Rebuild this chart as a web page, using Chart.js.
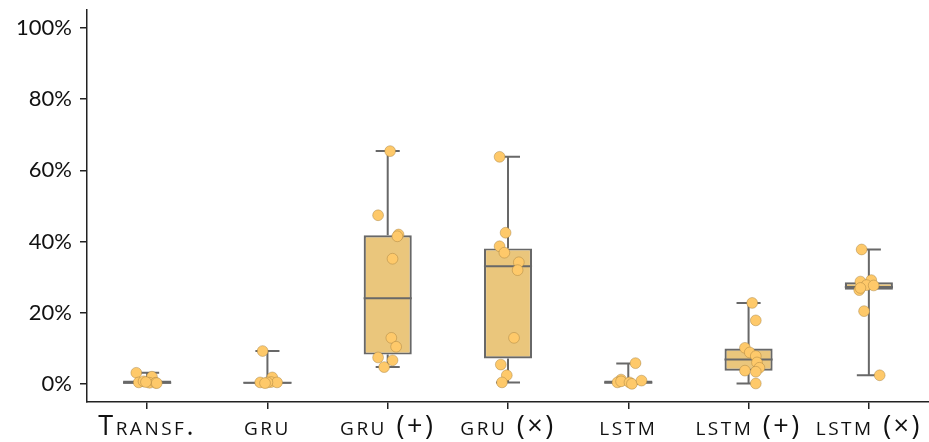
<!DOCTYPE html>
<html>
<head>
<meta charset="utf-8">
<script src="https://cdn.jsdelivr.net/npm/chart.js@4.4.0/dist/chart.umd.min.js"></script>
<style>
  html, body { margin: 0; padding: 0; background: #fff; }
  #wrap { width: 929px; height: 442px; }
</style>
</head>
<body>
<div id="wrap"><canvas id="chart" width="929" height="442"></canvas></div>
<script>
// categories (drawn in small caps)
const categories = ['Transf.', 'gru', 'gru (+)', 'gru (×)', 'lstm', 'lstm (+)', 'lstm (×)'];
const yTicks = [0, 20, 40, 60, 80, 100];

// box stats per model, in %
const q1        = [0.1, 0.1,  8.3,  7.2, 0.1,  3.8, 26.5];
const median    = [0.4, 0.4, 24.1, 33.1, 0.5,  6.9, 27.3];
const q3        = [1.0, 0.6, 41.8, 38.1, 1.0, 10.0, 28.6];
const whiskerLo = [0.0, 0.0,  4.8,  0.5, 0.1,  0.2,  2.5];
const whiskerHi = [3.2, 9.3, 65.4, 63.8, 5.8, 22.8, 37.8];

// individual runs, in %
const transfRuns = [3.2, 2.1, 0.5, 0.4, 0.4, 0.8, 0.3, 0.6];
const gruRuns = [9.3, 0.5, 1.9, 0.6, 0.5, 0.5, 0.3];
const gruAddRuns = [65.4, 47.4, 42.0, 41.5, 35.2, 13.0, 10.5, 7.5, 6.7, 4.8];
const gruMulRuns = [63.8, 42.5, 38.7, 36.9, 34.2, 32.0, 13.0, 5.5, 2.5, 0.5];
const lstmRuns = [5.9, 1.3, 0.5, 0.8, 0.5, 0.1, 1.0];
const lstmAddRuns = [22.8, 17.9, 10.2, 8.9, 7.9, 6.1, 4.6, 3.8, 3.5, 0.2];
const lstmMulRuns = [37.8, 28.8, 29.2, 27.8, 27.7, 26.4, 27.0, 20.5, 2.5];

// horizontal jitter of the strip points (fraction of a category)
const transfJit = [-0.09, 0.04, -0.07, 0.02, 0.07, -0.03, 0.08, -0.01];
const gruJit = [-0.04, -0.06, 0.04, 0.03, 0.08, 0.0, -0.02];
const gruAddJit = [0.02, -0.08, 0.09, 0.08, 0.04, 0.03, 0.07, -0.08, 0.04, -0.03];
const gruMulJit = [-0.07, -0.02, -0.07, -0.03, 0.09, 0.08, 0.05, -0.06, -0.01, -0.05];
const lstmJit = [0.06, -0.06, -0.09, -0.06, 0.01, 0.03, 0.11];
const lstmAddJit = [0.03, 0.06, -0.03, 0.01, 0.06, 0.07, 0.09, -0.03, 0.06, 0.06];
const lstmMulJit = [-0.06, -0.07, 0.02, -0.02, 0.04, -0.08, -0.07, -0.04, 0.09];

const runs = [transfRuns, gruRuns, gruAddRuns, gruMulRuns, lstmRuns, lstmAddRuns, lstmMulRuns];
const jit = [transfJit, gruJit, gruAddJit, gruMulJit, lstmJit, lstmAddJit, lstmMulJit];

const stripPoints = [];
runs.forEach((vals, i) => {
  vals.forEach((v, j) => stripPoints.push({ x: i + jit[i][j], y: v }));
});

const LINE = '#686868';
const AXIS = '#222';

// whiskers + medians drawn with the chart scales
const boxPlugin = {
  id: 'boxParts',
  beforeDraw(chart) {
    // wider letter spacing on the category labels only
    const xs = chart.scales.x;
    if (!xs._spaced) {
      const orig = xs.drawLabels;
      xs.drawLabels = function (area) {
        this.ctx.letterSpacing = '2.5px';
        orig.call(this, area);
        this.ctx.letterSpacing = '0px';
      };
      xs._spaced = true;
    }
  },
  afterDatasetDraw(chart, args) {
    if (args.index !== 0) return;
    const ctx = chart.ctx;
    const xs = chart.scales.x2;
    const ys = chart.scales.y;
    const meta = chart.getDatasetMeta(0);
    ctx.save();
    ctx.strokeStyle = LINE;
    ctx.lineWidth = 2;
    categories.forEach((c, i) => {
      const cx = xs.getPixelForValue(i);
      const capL = xs.getPixelForValue(i - 0.1);
      const capR = xs.getPixelForValue(i + 0.1);
      const bar = meta.data[i];
      const half = bar.width / 2;
      const yq1 = ys.getPixelForValue(q1[i]);
      const yq3 = ys.getPixelForValue(q3[i]);
      const ylo = ys.getPixelForValue(whiskerLo[i]);
      const yhi = ys.getPixelForValue(whiskerHi[i]);
      const ym = ys.getPixelForValue(median[i]);
      ctx.beginPath();
      ctx.moveTo(cx, yq3); ctx.lineTo(cx, yhi);
      ctx.moveTo(capL, yhi); ctx.lineTo(capR, yhi);
      ctx.moveTo(cx, yq1); ctx.lineTo(cx, ylo);
      ctx.moveTo(capL, ylo); ctx.lineTo(capR, ylo);
      ctx.moveTo(cx - half, ym); ctx.lineTo(cx + half, ym);
      ctx.stroke();
    });
    ctx.restore();
  }
};

new Chart(document.getElementById('chart'), {
  type: 'bar',
  data: {
    labels: categories,
    datasets: [
      {
        type: 'bar',
        data: categories.map((c, i) => [q1[i], q3[i]]),
        backgroundColor: '#EAC67C',
        borderColor: LINE,
        borderWidth: 2.2,
        borderSkipped: false,
        grouped: false,
        barPercentage: 0.4,
        categoryPercentage: 1.0,
        xAxisID: 'x',
        order: 2
      },
      {
        type: 'scatter',
        data: stripPoints,
        xAxisID: 'x2',
        pointRadius: 5.4,
        pointBackgroundColor: '#FEC96A',
        pointBorderColor: 'rgba(160,125,60,0.55)',
        pointBorderWidth: 0.8,
        order: 1
      }
    ]
  },
  options: {
    responsive: false,
    animation: false,
    layout: { autoPadding: false, padding: { top: 10, right: -2, left: 0, bottom: 0 } },
    plugins: { legend: { display: false }, tooltip: { enabled: false } },
    scales: {
      x: {
        type: 'category',
        offset: true,
        grid: { display: true, offset: false, drawOnChartArea: false, drawTicks: true, tickLength: 7, color: AXIS, lineWidth: 1.5 },
        border: { color: AXIS, width: 1.5 },
        ticks: {
          color: '#111',
          padding: 2,
          maxRotation: 0,
          font: { family: 'Open Sans', size: 27, weight: 'small-caps' }
        },
        afterFit(scale) { scale.height = 40; scale.paddingLeft = 0; scale.paddingRight = 0; }
      },
      x2: {
        type: 'linear',
        display: false,
        offset: false,
        min: -0.5,
        max: 6.5
      },
      y: {
        min: -5,
        max: 105,
        afterBuildTicks(scale) { scale.ticks = yTicks.map(v => ({ value: v })); },
        grid: { display: true, drawOnChartArea: false, drawTicks: true, tickLength: 7, color: AXIS, lineWidth: 1.5 },
        border: { color: AXIS, width: 1.5 },
        ticks: {
          color: '#111',
          padding: 8,
          font: { family: 'Lato', size: 22 },
          callback: v => v + '%'
        },
        afterFit(scale) { scale.width = 87; scale.paddingTop = 0; scale.paddingBottom = 0; }
      }
    }
  },
  plugins: [boxPlugin]
});
</script>
</body>
</html>
